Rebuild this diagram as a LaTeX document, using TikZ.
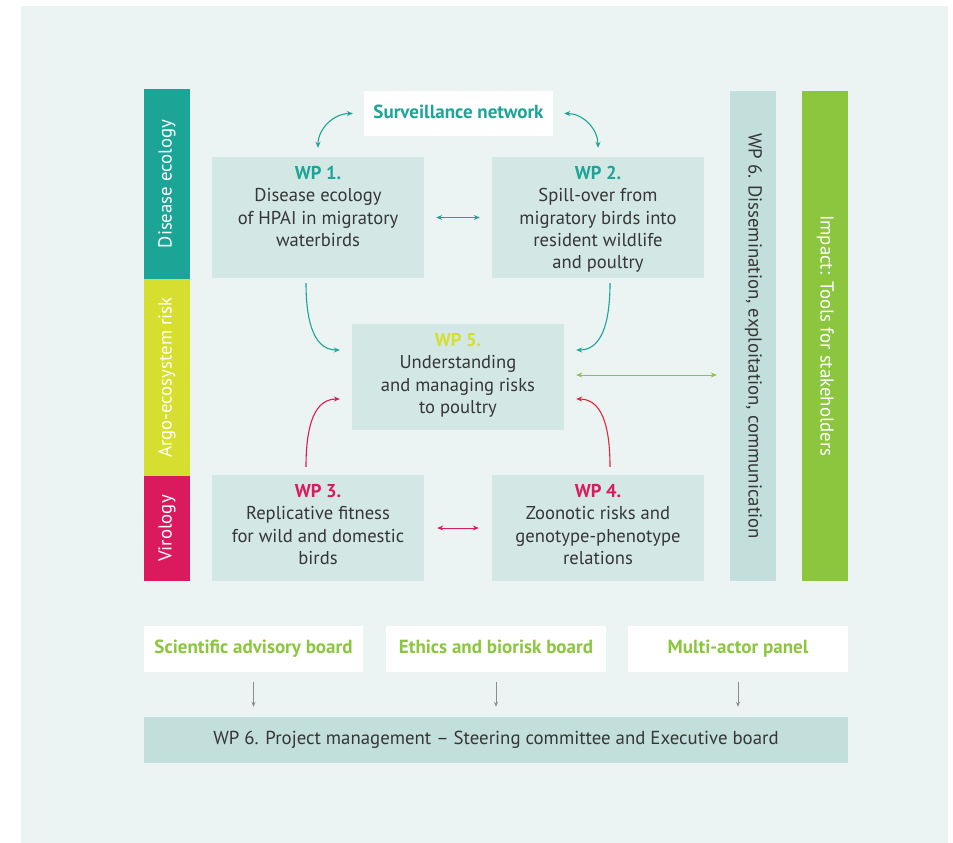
\documentclass[tikz,border=0pt]{standalone}
\usepackage{fontspec}
\setmainfont{PT Sans}
\usetikzlibrary{arrows.meta}
\definecolor{bgc}{HTML}{EBF4F3}
\definecolor{boxc}{HTML}{D3E8E5}
\definecolor{barc}{HTML}{C3DFDB}
\definecolor{tealc}{HTML}{1CA596}
\definecolor{limec}{HTML}{D6DF2F}
\definecolor{magc}{HTML}{DA1A5C}
\definecolor{grnc}{HTML}{8CC63F}
\definecolor{redc}{HTML}{E0283A}
\definecolor{txtc}{HTML}{363636}
\definecolor{arrg}{HTML}{8C8C8C}
\tikzset{
  wpbox/.style={fill=boxc, draw=none, inner sep=0pt, minimum width=212pt},
  wptext/.style={anchor=north, inner sep=0pt, align=center, text=txtc, font=\fontsize{18.6}{22.3}\selectfont},
  bar/.style={draw=none, inner sep=0pt, minimum height=46pt, text height=13pt, text depth=4pt, font=\fontsize{18.8}{20}\selectfont},
  board/.style={fill=white, draw=none, inner sep=0pt, minimum width=219pt, minimum height=46pt, text height=13pt, text depth=4pt, text=grnc, font=\fontsize{19}{20}\selectfont\bfseries},
  conn/.style={line width=1.1pt, {Stealth[length=6pt,width=5pt]}-{Stealth[length=6pt,width=5pt]}},
  oneway/.style={line width=1.1pt, -{Stealth[length=6pt,width=5pt]}},
  garrow/.style={line width=1pt, arrg, -{Stealth[length=5pt,width=4pt]}}
}
\begin{document}
\begin{tikzpicture}[x=1pt,y=1pt]
\useasboundingbox (0,0) rectangle (953,-843);
\fill[bgc] (21,-6) rectangle (948,-843);

% side bars
\node[bar, rotate=90, fill=tealc, text=white, minimum width=190pt] (de) at (167,-184) {Disease ecology};
\node[bar, rotate=90, fill=limec, text=white, minimum width=197pt] (ae) at (167,-377.5) {Argo-ecosystem risk};
\node[bar, rotate=90, fill=magc, text=white, minimum width=105pt] (vi) at (167,-528.5) {Virology};
\node[bar, rotate=-90, fill=barc, text=txtc, minimum width=490pt] (diss) at (753,-336) {WP 6. Dissemination, exploitation, communication};
\node[bar, rotate=-90, fill=grnc, text=white, minimum width=490pt] (imp) at (825,-336) {Impact: Tools for stakeholders};

% surveillance
\node[fill=white, inner sep=0pt, minimum width=189pt, minimum height=45pt, text height=13pt, text depth=4pt, text=tealc, font=\fontsize{19}{20}\selectfont\bfseries] (sv) at (458.5,-113.5) {Surveillance network};

% WP boxes
\node[wpbox, minimum height=121pt] (wp1) at (318,-217.5) {};
\node[wpbox, minimum height=121pt] (wp2) at (598,-217.5) {};
\node[wpbox, minimum height=106pt] (wp5) at (458,-377) {};
\node[wpbox, minimum height=106pt] (wp3) at (318,-528) {};
\node[wpbox, minimum height=106pt] (wp4) at (598,-528) {};

\node[wptext] (wp1t) at (318,-166) {\textcolor{tealc}{\textbf{WP 1.}}\\Disease ecology\\of HPAI in migratory\\waterbirds};
\node[wptext] (wp2t) at (598,-166) {\textcolor{tealc}{\textbf{WP 2.}}\\Spill-over from\\migratory birds into\\resident wildlife\\and poultry};
\node[wptext] (wp5t) at (458,-333) {\textcolor{limec}{\textbf{WP 5.}}\\Understanding\\and managing risks\\to poultry};
\node[wptext] (wp3t) at (318,-484) {\textcolor{magc}{\textbf{WP 3.}}\\Replicative fitness\\for wild and domestic\\birds};
\node[wptext] (wp4t) at (598,-484) {\textcolor{magc}{\textbf{WP 4.}}\\Zoonotic risks and\\genotype-phenotype\\relations};

% connectors
\draw[conn, tealc] ([yshift=9pt]wp1.north) to[out=90, in=180] ([xshift=-11pt]sv.west);
\draw[conn, tealc] ([xshift=11pt]sv.east) to[out=0, in=90] ([yshift=9pt]wp2.north);
\draw[conn, tealc] ([xshift=12pt]wp1.east) -- ([xshift=-12pt]wp2.west);
\draw[oneway, tealc] ([xshift=-12pt,yshift=-5pt]wp1.south) to[out=-90, in=180] ([xshift=-12pt,yshift=27pt]wp5.west);
\draw[oneway, tealc] ([xshift=12pt,yshift=-5pt]wp2.south) to[out=-90, in=0] ([xshift=12pt,yshift=27pt]wp5.east);
\coordinate (dl) at (diss.south |- wp5.east);
\draw[conn, grnc, line width=0.9pt] ([xshift=12pt,yshift=2pt]wp5.east) -- ([xshift=-13pt,yshift=2pt]dl);
\draw[oneway, magc] ([xshift=-12pt,yshift=8pt]wp3.north) to[out=90, in=180] ([xshift=-12pt,yshift=-22pt]wp5.west);
\draw[oneway, redc] ([xshift=12pt,yshift=8pt]wp4.north) to[out=90, in=0] ([xshift=12pt,yshift=-22pt]wp5.east);
\draw[conn, magc, line width=1pt] ([xshift=13pt]wp3.east) -- ([xshift=-13pt]wp4.west);

% boards
\node[board] (sab) at (253.5,-649) {Scientific advisory board};
\node[board, minimum width=220pt] (ebb) at (496,-649) {Ethics and biorisk board};
\node[board, minimum width=220pt] (map) at (738,-649) {Multi-actor panel};
\node[fill=barc, inner sep=0pt, minimum width=704pt, minimum height=46pt, text height=13pt, text depth=4pt, text=txtc, font=\fontsize{18.8}{20}\selectfont] (pm) at (496,-740) {WP 6. Project management -- Steering committee and Executive board};

\coordinate (p1) at (sab.south |- pm.north);
\coordinate (p2) at (ebb.south |- pm.north);
\coordinate (p3) at (map.south |- pm.north);
\draw[garrow] ([yshift=-10pt]sab.south) -- ([yshift=10pt]p1);
\draw[garrow] ([yshift=-10pt]ebb.south) -- ([yshift=10pt]p2);
\draw[garrow] ([yshift=-10pt]map.south) -- ([yshift=10pt]p3);
\end{tikzpicture}
\end{document}
